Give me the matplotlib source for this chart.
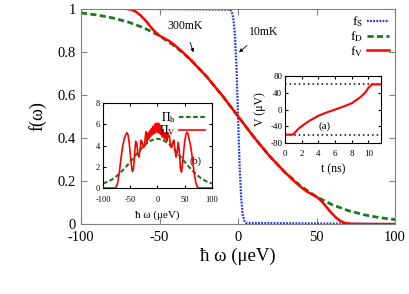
import numpy as np
import matplotlib
matplotlib.use('Agg')
import matplotlib.pyplot as plt

plt.rcParams['font.family'] = ['Liberation Serif', 'DejaVu Serif']
plt.rcParams['mathtext.fontset'] = 'stix'
plt.rcParams['axes.unicode_minus'] = False

# main panel: distributions vs energy (ueV)
w_S = [-100, -5, -4, -3, -2, -1, 0, 1, 2, 3, 4, 5, 100]
f_S = [1.0, 0.995, 0.985, 0.955, 0.88, 0.73, 0.5, 0.27, 0.12, 0.045, 0.015, 0.005, 0.0]

w_D = [-100, -90, -80, -70, -60, -50, -40, -30, -20, -10, 0,
       10, 20, 30, 40, 50, 60, 70, 80, 90, 100]
f_D = [0.9795, 0.9702, 0.9567, 0.9375, 0.9106, 0.8737, 0.8245, 0.7614, 0.6843, 0.5955, 0.5,
       0.4045, 0.3157, 0.2386, 0.1755, 0.1263, 0.0894, 0.0625, 0.0433, 0.0298, 0.0205]

w_V = [-100, -80, -72, -68, -65, -62, -59, -56, -53, -50, -47, -44, -41, -38, -35, -30, -20, -10, 0,
       10, 20, 30, 35, 38, 41, 44, 47, 50, 53, 56, 59, 62, 65, 68, 72, 80, 100]
f_V = [1.0, 1.0, 0.999, 0.995, 0.985, 0.968, 0.945, 0.918, 0.893, 0.874, 0.862, 0.85, 0.834, 0.815,
       0.796, 0.761, 0.684, 0.596, 0.5,
       0.404, 0.316, 0.239, 0.204, 0.185, 0.166, 0.15, 0.138, 0.126, 0.107, 0.082, 0.055, 0.032,
       0.015, 0.005, 0.001, 0.0, 0.0]

# inset (b): histograms
x_h = [-100, -90, -80, -70, -60, -50, -40, -30, -20, -10, 0, 10, 20, 30, 40, 50, 60, 70, 80, 90, 100]
pi_h = [0.42, 0.62, 0.91, 1.34, 1.86, 2.46, 3.09, 3.69, 4.19, 4.52, 4.64,
        4.52, 4.19, 3.69, 3.09, 2.46, 1.86, 1.34, 0.91, 0.62, 0.42]

x_v_left = [-100, -80, -76, -73, -70, -67, -64, -61, -58, -56, -54, -52, -50, -48, -46, -44, -42, -40,
            -38, -36, -34, -32, -30, -28, -26, -24, -22]
pi_v_left = [0.0, 0.0, 0.05, 0.5, 1.5, 2.8, 3.9, 4.6, 5.05, 5.2, 5.0, 4.3, 3.2, 2.2, 1.55, 1.8, 3.2, 4.4,
             4.2, 3.2, 2.9, 3.6, 4.5, 4.3, 3.8, 3.9, 5.0]
x_v_mid = list(range(-21, 21))
pi_v_mid = [5.3, 4.9, 4.3, 4.8, 5.2, 4.6, 4.9, 5.4, 4.8, 5.1, 5.6, 5.0, 5.3, 5.8, 5.1, 5.5, 6.0, 5.2,
            5.7, 6.1, 5.3, 5.9, 5.2, 6.1, 5.5, 5.9, 5.1, 5.7, 5.0, 5.4, 4.8, 5.5, 4.9, 5.2, 4.6, 5.1,
            4.7, 5.2, 4.4, 4.9, 5.2, 4.8]
x_v_right = [22, 24, 26, 28, 30, 32, 34, 36, 38, 40, 42, 44, 46, 48, 50, 52, 54, 56, 58,
             61, 64, 67, 70, 73, 76, 80, 100]
pi_v_right = [4.9, 3.9, 3.8, 4.3, 4.5, 3.6, 2.9, 3.3, 4.3, 3.5, 1.9, 1.5, 2.3, 3.4, 4.4, 5.0, 5.25, 5.1, 4.6,
              3.9, 2.8, 1.5, 0.6, 0.1, 0.0, 0.0, 0.0]
x_v = x_v_left + x_v_mid + x_v_right
pi_v = pi_v_left + pi_v_mid + pi_v_right

# inset (a): voltage vs time
t_ns = [0, 0.9, 1.2, 1.6, 2.2, 3.0, 4.0, 5.0, 6.0, 7.0, 8.0, 9.0, 9.6, 10.0, 10.4, 11.5]
V_uV = [-60, -60, -55, -46, -37, -26, -15, -7, 0, 7, 15, 29, 40, 52, 60, 60]

red = '#ff0000'
green = '#1a7a1a'
blue = '#2233ee'

fig = plt.figure(figsize=(4.09, 2.94), dpi=100)
ax = fig.add_axes([0.198, 0.238, 0.768, 0.733])
ax.plot(w_S, f_S, color=blue, lw=1.6, dashes=(0.8, 0.6), label=r'f$_{\rm S}$')
ax.plot(w_D, f_D, color=green, lw=2.0, dashes=(2.2, 1.2), label=r'f$_{\rm D}$')
ax.plot(w_V, f_V, color=red, lw=1.8, label=r'f$_{\rm V}$')
ax.set_xlim(-100, 100)
ax.set_ylim(0, 1)
ax.set_xticks([-100, -50, 0, 50, 100])
ax.set_yticks([0, 0.2, 0.4, 0.6, 0.8, 1])
ax.set_yticklabels(['0', '0.2', '0.4', '0.6', '0.8', '1'])
ax.tick_params(direction='in', top=True, right=True, labelsize=10.5, length=4, color='#808080')
ax.tick_params(axis='x', pad=5)
for s in ax.spines.values():
    s.set_color('#808080')
ax.set_xlabel('ħ ω (μeV)', fontsize=13.5, labelpad=3)
ax.set_ylabel('f(ω)', fontsize=13, labelpad=8)
ax.legend(loc='upper right', frameon=False, markerfirst=False, fontsize=9.5,
          handlelength=1.7, labelspacing=0.0, borderaxespad=0.15, handletextpad=0.3,
          borderpad=0.3)

ax.annotate('300mK', xy=(-28.4, 0.797), xytext=(-34, 0.921), fontsize=8.5, ha='center', va='center',
            arrowprops=dict(arrowstyle='-|>', color='black', lw=0.6, mutation_scale=5,
                            shrinkA=6, shrinkB=0))
ax.annotate('10mK', xy=(0.6, 0.797), xytext=(16.6, 0.893), fontsize=8.5, ha='center', va='center',
            arrowprops=dict(arrowstyle='-|>', color='black', lw=0.6, mutation_scale=5,
                            shrinkA=6, shrinkB=0))

# inset (b)
axb = fig.add_axes([0.2518, 0.3605, 0.2665, 0.2892])
axb.text(70, 2.5, '(b)', fontsize=7.5, ha='center', va='center', zorder=1)
axb.plot(x_h, pi_h, color=green, lw=1.5, dashes=(2.2, 1.2), label=r'$\Pi_{\rm h}$', zorder=2)
axb.plot(x_v, pi_v, color=red, lw=1.2, label=r'$\Pi_{\rm V}$', zorder=3)
axb.set_xlim(-100, 100)
axb.set_ylim(0, 8)
axb.set_xticks([-100, -50, 0, 50, 100])
axb.set_yticks([0, 2, 4, 6, 8])
axb.tick_params(direction='in', top=True, right=True, labelsize=6, length=2.5, pad=2)
axb.tick_params(axis='x', pad=6)
axb.set_xlabel('ħ ω (μeV)', fontsize=8, labelpad=4)
axb.legend(loc='upper right', frameon=False, markerfirst=False, fontsize=8.5,
           handlelength=2.2, labelspacing=-0.1, borderaxespad=0.2, handletextpad=0.3)

# inset (a)
axa = fig.add_axes([0.6968, 0.5136, 0.2347, 0.2279])
axa.axhline(60, color='black', lw=1.1, dashes=(1, 2))
axa.axhline(-60, color='black', lw=1.1, dashes=(1, 2))
axa.plot(t_ns, V_uV, color=red, lw=1.5)
axa.text(4.8, -41, '(a)', fontsize=8, ha='center', va='center')
axa.set_xlim(0, 11.5)
axa.set_ylim(-80, 80)
axa.set_xticks([0, 2, 4, 6, 8, 10])
axa.set_yticks([-80, -40, 0, 40, 80])
axa.tick_params(direction='in', top=True, right=True, labelsize=6.5, length=2.5, pad=2)
axa.tick_params(axis='x', pad=5)
axa.set_xlabel('t (ns)', fontsize=8.5, labelpad=4)
axa.set_ylabel('V (μV)', fontsize=8.5, labelpad=3)

fig.savefig('out.png', dpi=100)
